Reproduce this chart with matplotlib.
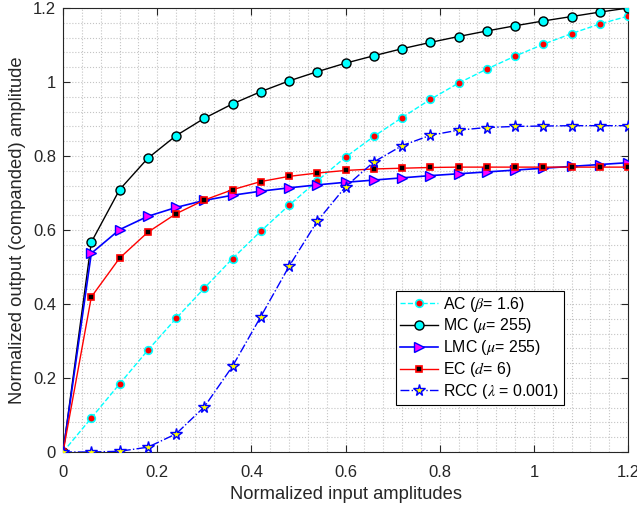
import matplotlib
matplotlib.use('Agg')
import matplotlib.pyplot as plt

plt.rcParams['font.family'] = ['Liberation Sans', 'DejaVu Sans']
plt.rcParams['mathtext.fontset'] = 'stix'

# input amplitudes (0:0.06:1.2)
x_vals = [0.00, 0.06, 0.12, 0.18, 0.24, 0.30, 0.36, 0.42, 0.48, 0.54, 0.60,
          0.66, 0.72, 0.78, 0.84, 0.90, 0.96, 1.02, 1.08, 1.14, 1.20]

ac = [0.000, 0.092, 0.184, 0.275, 0.361, 0.443, 0.523, 0.597, 0.667, 0.733, 0.797,
      0.853, 0.904, 0.953, 0.997, 1.035, 1.070, 1.102, 1.131, 1.157, 1.178]
mc = [0.000, 0.567, 0.709, 0.794, 0.855, 0.902, 0.941, 0.974, 1.003, 1.028, 1.051,
      1.071, 1.090, 1.107, 1.123, 1.138, 1.152, 1.165, 1.177, 1.189, 1.200]
lmc = [0.000, 0.537, 0.601, 0.637, 0.661, 0.680, 0.694, 0.705, 0.714, 0.722, 0.729,
       0.735, 0.741, 0.747, 0.752, 0.757, 0.762, 0.767, 0.772, 0.777, 0.782]
ec = [0.000, 0.419, 0.524, 0.594, 0.644, 0.681, 0.709, 0.731, 0.745, 0.754, 0.761,
      0.765, 0.767, 0.769, 0.770, 0.770, 0.770, 0.770, 0.770, 0.770, 0.770]
rcc = [0.000, 0.000, 0.002, 0.013, 0.049, 0.122, 0.232, 0.366, 0.502, 0.624, 0.717,
       0.784, 0.828, 0.856, 0.870, 0.877, 0.880, 0.881, 0.882, 0.882, 0.882]

major_ticks = [0, 0.2, 0.4, 0.6, 0.8, 1.0, 1.2]
tick_labels = ['0', '0.2', '0.4', '0.6', '0.8', '1', '1.2']
minor_ticks = [i * 0.04 for i in range(31)]

fig = plt.figure(figsize=(6.37, 5.14), dpi=100)
ax = fig.add_axes([0.099, 0.1206, 0.887, 0.8638])

ax.plot(x_vals, ac, '--o', color='cyan', mfc='red', mec='cyan', ms=5.5, mew=1.2,
        lw=1, label=r'AC ($\beta$= 1.6)', zorder=3)
ax.plot(x_vals, mc, '-o', color='black', mfc='cyan', mec='black', ms=6.5, mew=1,
        lw=1, label=r'MC ($\mu$= 255)', zorder=3)
ax.plot(x_vals, lmc, '->', color='blue', mfc='magenta', mec='blue', ms=7, mew=1,
        lw=1.2, label=r'LMC ($\mu$= 255)', zorder=3)
ax.plot(x_vals, ec, '-s', color='red', mfc='black', mec='red', ms=5, mew=1.2,
        lw=1, label=r'EC ($d$= 6)', zorder=3)
ax.plot(x_vals, rcc, '-.*', color='blue', mfc='yellow', mec='blue', ms=8.5, mew=1,
        lw=1, label=r'RCC ($\lambda$ = 0.001)', zorder=3)

ax.set_xlim(0, 1.2)
ax.set_ylim(0, 1.2)
ax.set_xticks(major_ticks)
ax.set_xticklabels(tick_labels)
ax.set_yticks(major_ticks)
ax.set_yticklabels(tick_labels)
ax.set_xticks(minor_ticks, minor=True)
ax.set_yticks(minor_ticks, minor=True)

ax.grid(which='both', color='#c4c4c4', linestyle=':', linewidth=0.8)
ax.set_axisbelow(True)
ax.tick_params(which='major', direction='in', top=True, right=True, length=5,
               labelsize=12, colors='#262626', labelcolor='#262626')
ax.tick_params(axis='x', which='major', pad=9)
ax.tick_params(axis='y', which='major', pad=5)
ax.tick_params(which='minor', length=0, top=True, right=True)
for s in ax.spines.values():
    s.set_color('#262626')
    s.set_linewidth(0.8)

ax.set_xlabel('Normalized input amplitudes', fontsize=13.2, color='#262626', labelpad=5)
ax.set_ylabel('Normalized output (companded) amplitude', fontsize=13.2,
              color='#262626', labelpad=5)

leg = ax.legend(loc='lower left', bbox_to_anchor=(0.589, 0.106, 0.298, 0.252),
                mode='expand', fontsize=11.4, fancybox=False, framealpha=1,
                edgecolor='black', borderpad=0.25, labelspacing=0.18,
                handlelength=2.4, handletextpad=0.3, borderaxespad=0)
leg.get_frame().set_linewidth(0.8)

fig.savefig('out.png', dpi=100)
